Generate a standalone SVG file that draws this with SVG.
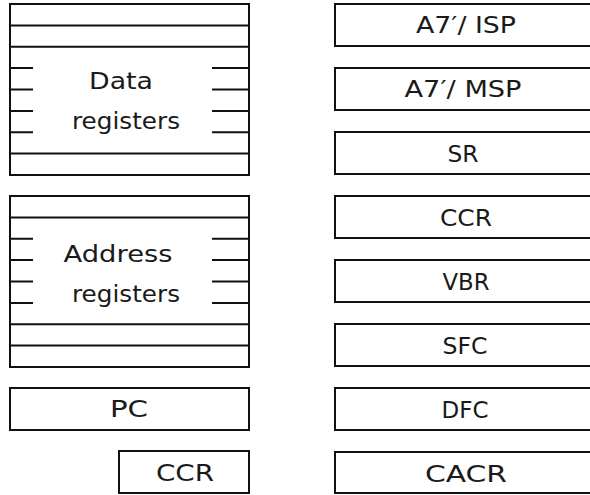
<svg xmlns="http://www.w3.org/2000/svg" width="590" height="495" viewBox="0 0 590 495">
  <style>
    .box { fill: #fff; stroke: #111; stroke-width: 2; }
    .ln { stroke: #111; stroke-width: 2; fill: none; }
    .lbl { font-family: "DejaVu Sans", "Liberation Sans", sans-serif; font-size: 23px; fill: #1a1a1a; text-anchor: middle; }
  </style>
  <rect width="590" height="495" fill="#fff"/>

  <!-- Data register file: 8 rows, middle rows only marked at the edges -->
  <g id="data-registers">
    <rect class="box" x="10" y="4" width="239" height="171"/>
    <path class="ln" d="M10 25.4H249M10 46.8H249M10 153.6H249"/>
    <path class="ln" d="M10 68.1H33M10 89.5H33M10 110.9H33M10 132.3H33"/>
    <path class="ln" d="M212 68.1H249M212 89.5H249M212 110.9H249M212 132.3H249"/>
    <text class="lbl" x="121" y="89" textLength="64" lengthAdjust="spacingAndGlyphs">Data</text>
    <text class="lbl" x="126" y="129" textLength="108" lengthAdjust="spacingAndGlyphs">registers</text>
  </g>

  <!-- Address register file -->
  <g id="address-registers">
    <rect class="box" x="10" y="196" width="239" height="171"/>
    <path class="ln" d="M10 217.4H249M10 324.3H249M10 345.6H249"/>
    <path class="ln" d="M10 238.8H33M10 260.1H33M10 281.5H33M10 302.9H33"/>
    <path class="ln" d="M212 238.8H249M212 260.1H249M212 281.5H249M212 302.9H249"/>
    <text class="lbl" x="118" y="262" textLength="109" lengthAdjust="spacingAndGlyphs">Address</text>
    <text class="lbl" x="126" y="302" textLength="108" lengthAdjust="spacingAndGlyphs">registers</text>
  </g>

  <g id="pc">
    <rect class="box" x="10" y="388" width="239" height="42"/>
    <text class="lbl" x="129" y="417" textLength="38" lengthAdjust="spacingAndGlyphs">PC</text>
  </g>

  <g id="ccr-user">
    <rect class="box" x="119" y="451" width="130" height="42"/>
    <text class="lbl" x="185" y="481" textLength="58" lengthAdjust="spacingAndGlyphs">CCR</text>
  </g>

  <!-- Supervisor/control registers, right column -->
  <g id="isp">
    <rect class="box" x="335" y="4" width="270" height="42"/>
    <text class="lbl" x="466" y="33" textLength="100" lengthAdjust="spacingAndGlyphs">A7′/ ISP</text>
  </g>
  <g id="msp">
    <rect class="box" x="335" y="68" width="270" height="42"/>
    <text class="lbl" x="463" y="97" textLength="117" lengthAdjust="spacingAndGlyphs">A7′/ MSP</text>
  </g>
  <g id="sr">
    <rect class="box" x="335" y="132" width="270" height="42"/>
    <text class="lbl" x="463" y="162" textLength="31" lengthAdjust="spacingAndGlyphs">SR</text>
  </g>
  <g id="ccr">
    <rect class="box" x="335" y="196" width="270" height="42"/>
    <text class="lbl" x="466" y="226" textLength="52" lengthAdjust="spacingAndGlyphs">CCR</text>
  </g>
  <g id="vbr">
    <rect class="box" x="335" y="260" width="270" height="42"/>
    <text class="lbl" x="466" y="290" textLength="47" lengthAdjust="spacingAndGlyphs">VBR</text>
  </g>
  <g id="sfc">
    <rect class="box" x="335" y="324" width="270" height="42"/>
    <text class="lbl" x="465" y="354" textLength="45" lengthAdjust="spacingAndGlyphs">SFC</text>
  </g>
  <g id="dfc">
    <rect class="box" x="335" y="388" width="270" height="42"/>
    <text class="lbl" x="465" y="418" textLength="47" lengthAdjust="spacingAndGlyphs">DFC</text>
  </g>
  <g id="cacr">
    <rect class="box" x="335" y="452" width="270" height="41"/>
    <text class="lbl" x="466" y="482" textLength="82" lengthAdjust="spacingAndGlyphs">CACR</text>
  </g>

  <g id="connectors"/>
</svg>
